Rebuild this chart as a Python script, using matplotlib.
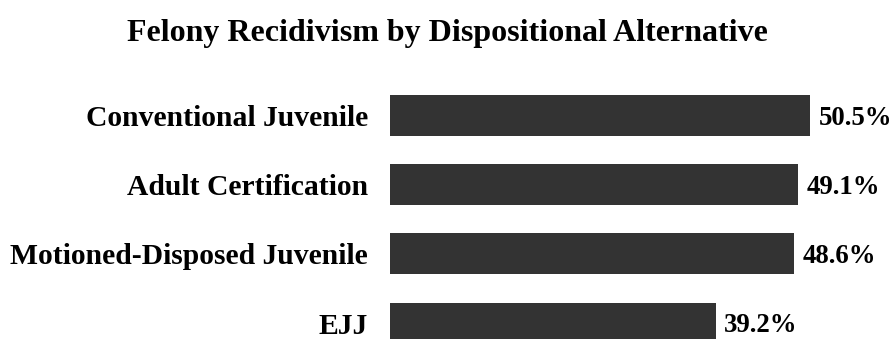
import matplotlib.pyplot as plt

categories = ["Conventional Juvenile", "Adult Certification",
              "Motioned-Disposed Juvenile", "EJJ"]
rates = [50.5, 49.1, 48.6, 39.2]

plt.rcParams["font.family"] = "Liberation Serif"
plt.rcParams["font.weight"] = "bold"

fig = plt.figure(figsize=(8.94, 3.39), dpi=100)
# axes run a little past the bottom edge, so the last bar is cut off
ax = fig.add_axes([390 / 894, -0.055, 500 / 894, 0.817])

pos = list(range(len(categories)))
ax.barh(pos, rates, height=0.59, color="#333333")
ax.set_xlim(0, 500 / 8.317)
ax.set_ylim(3.5, -0.5)

ax.set_yticks(pos)
ax.set_yticklabels(categories, fontsize=21.3, fontweight="bold")
ax.tick_params(axis="y", length=0, pad=16)
ax.set_xticks([])
for s in ax.spines.values():
    s.set_visible(False)

for p, v in zip(pos, rates):
    ax.annotate(f"{v}%", (v, p), xytext=(6, -2), textcoords="offset points",
                va="center", ha="left", fontsize=19.3, fontweight="bold")

fig.text(0.5, 1 - 33 / 339, "Felony Recidivism by Dispositional Alternative",
         ha="center", va="center", fontsize=23, fontweight="bold")

fig.savefig("out.png", dpi=100)
